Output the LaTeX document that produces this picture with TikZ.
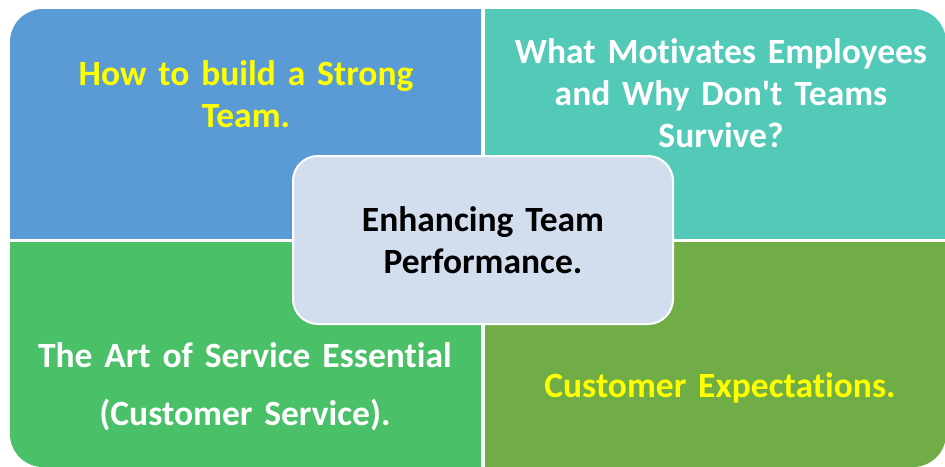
\documentclass[tikz,border=0pt]{standalone}
\usepackage{fontspec}
\setmainfont{Carlito}[Ligatures=NoCommon]
\usepackage{tikz}

\definecolor{tlblue}{RGB}{91,155,213}
\definecolor{trteal}{RGB}{83,201,183}
\definecolor{blgreen}{RGB}{74,192,104}
\definecolor{brgreen}{RGB}{112,173,71}
\definecolor{hubfill}{RGB}{210,222,238}
\definecolor{lightyellow}{RGB}{255,255,0}

\begin{document}
\begin{tikzpicture}[
		x=1pt, y=-1pt,
		topic/.style={anchor=base, align=center, text width=460pt, inner sep=0pt, font=\fontsize{35.5}{42}\selectfont\bfseries},
		hub/.style={draw=white, line width=2pt, fill=hubfill, rounded corners=25pt, minimum width=380pt, minimum height=168pt, align=center, text width=370pt, font=\fontsize{35.5}{42}\selectfont\bfseries}
		]
		\useasboundingbox (0,0) rectangle (945,466);
		
		% Four quadrants of one rounded block
		\foreach \xa/\ya/\xb/\yb/\col in {10/9/481/238/tlblue, 485/9/946/238/trteal, 10/242/481/467/blgreen, 485/242/946/467/brgreen}
		{
			\begin{scope}
				\clip (\xa,\ya) rectangle (\xb,\yb);
				\fill[\col, rounded corners=33pt] (10,9) rectangle (946,467);
			\end{scope}
		}
		
		% Quadrant titles
		\node[topic, text=lightyellow] (build) at (246,85) {How to build a Strong\\Team.};
		\node[topic, text=white] (motivate) at (721,63) {What Motivates Employees\\and Why Don\textquotesingle t Teams\\Survive?};
		\node[topic, text=white, font=\fontsize{35.5}{58}\selectfont\bfseries] (service) at (245,367) {The Art of Service Essential\\(Customer Service).};
		\node[topic, text=lightyellow] (expect) at (720,397) {Customer Expectations.};
		
		% Centre box
		\node[hub] (perf) at (483,240) {Enhancing Team\\Performance.};
		
	\end{tikzpicture}
\end{document}
